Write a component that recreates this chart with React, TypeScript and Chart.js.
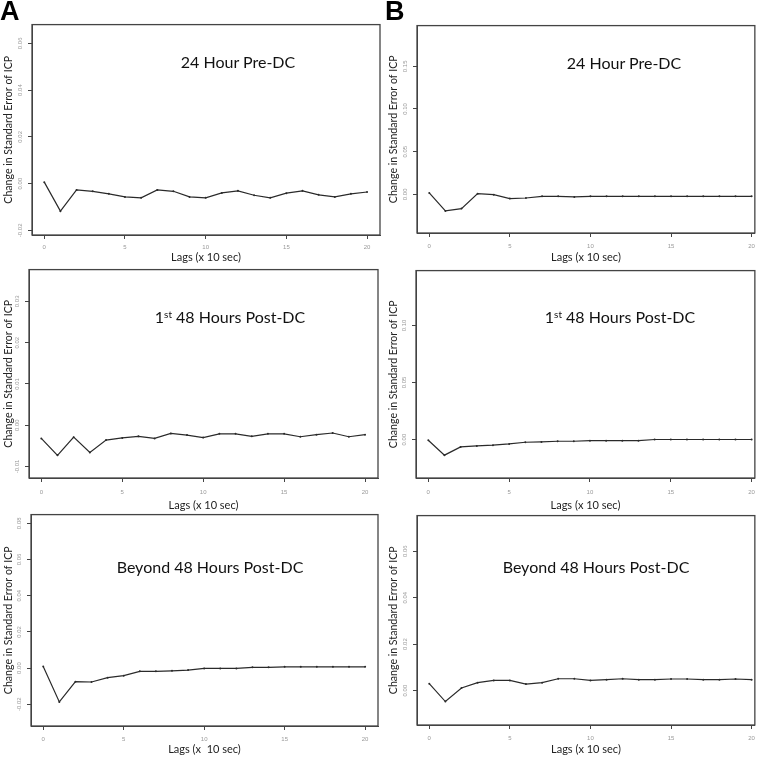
import React, { useEffect, useRef } from "react";
import { Chart, registerables } from "chart.js";

Chart.register(...registerables);

// ---------- data ----------
const lags = [0, 1, 2, 3, 4, 5, 6, 7, 8, 9, 10, 11, 12, 13, 14, 15, 16, 17, 18, 19, 20];

const a24Pre = [0.0006, -0.0118, -0.0027, -0.0033, -0.0044, -0.0057, -0.0061, -0.0027, -0.0033, -0.0057, -0.0061, -0.004, -0.0031, -0.005, -0.0061, -0.0041, -0.0031, -0.0048, -0.0057, -0.0044, -0.0036];
const b24Pre = [0.0016, -0.0194, -0.0167, 0.0008, -0.0004, -0.005, -0.0043, -0.0023, -0.0023, -0.003, -0.0023, -0.0023, -0.0023, -0.0023, -0.0023, -0.0023, -0.0023, -0.0023, -0.0023, -0.0023, -0.0023];
const a48Post = [-0.0032, -0.0073, -0.0029, -0.0066, -0.0036, -0.0031, -0.0027, -0.0032, -0.002, -0.0024, -0.003, -0.0021, -0.0021, -0.0027, -0.0021, -0.0021, -0.0028, -0.0023, -0.0019, -0.0028, -0.0023];
const b48Post = [-0.0006, -0.0136, -0.0064, -0.0055, -0.0049, -0.0038, -0.0023, -0.002, -0.0014, -0.0014, -0.0009, -0.0009, -0.0009, -0.0009, 0.0001, 0.0001, 0.0001, 0.0001, 0.0001, 0.0001, 0.0001];
const aBeyond = [0.0009, -0.0187, -0.0075, -0.0077, -0.0053, -0.0042, -0.0018, -0.0018, -0.0015, -0.0011, -0.0002, -0.0002, -0.0002, 0.0004, 0.0004, 0.0007, 0.0007, 0.0007, 0.0007, 0.0007, 0.0007];
const bBeyond = [0.003, -0.0047, 0.0011, 0.0034, 0.0044, 0.0044, 0.0028, 0.0034, 0.0051, 0.0051, 0.0044, 0.0047, 0.0051, 0.0047, 0.0047, 0.005, 0.005, 0.0047, 0.0047, 0.005, 0.0047];

const xTicks = [0, 5, 10, 15, 20];
const a24Ticks = [-0.02, 0, 0.02, 0.04, 0.06];
const b24Ticks = [0, 0.05, 0.1, 0.15];
const a48Ticks = [-0.01, 0, 0.01, 0.02, 0.03];
const b48Ticks = [0, 0.05, 0.1];
const aBeyondTicks = [-0.02, 0, 0.02, 0.04, 0.06, 0.08];
const bBeyondTicks = [0, 0.02, 0.04, 0.06];

const yAxisLabel = "Change in Standard Error of ICP";
const xAxisLabel = "Lags (x 10 sec)";
const xAxisLabelWide = "Lags (x  10 sec)";

// ---------- layout ----------
type PanelSpec = {
  key: string;
  values: number[];
  yTicks: number[];
  yMin: number;
  yMax: number;
  xMin: number;
  xMax: number;
  colLeft: number;
  box: [number, number, number, number];
  xTitleY: number;
  xTitle: string;
  tickPadX: number;
  tickPadY: number;
  title: React.ReactNode;
  titleX: number;
  titleY: number;
};

const sup = (t: string) => <sup style={{ fontSize: "0.62em", verticalAlign: "0.55em", lineHeight: 0 }}>{t}</sup>;

const panels: PanelSpec[] = [
  { key: "A1", values: a24Pre, yTicks: a24Ticks, yMin: -0.022, yMax: 0.068, xMin: -0.76, xMax: 20.8, colLeft: 0, box: [32, 24, 380, 235], xTitleY: 257, xTitle: xAxisLabel, tickPadX: 5, tickPadY: 1, title: "24 Hour Pre-DC", titleX: 238, titleY: 62 },
  { key: "B1", values: b24Pre, yTicks: b24Ticks, yMin: -0.0453, yMax: 0.1977, xMin: -0.76, xMax: 20.2, colLeft: 385, box: [417, 24, 757, 233], xTitleY: 257, xTitle: xAxisLabel, tickPadX: 6, tickPadY: 2, title: "24 Hour Pre-DC", titleX: 624, titleY: 63 },
  { key: "A2", values: a48Post, yTicks: a48Ticks, yMin: -0.0128, yMax: 0.0377, xMin: -0.76, xMax: 20.8, colLeft: 0, box: [29, 269, 378, 478], xTitleY: 505, xTitle: xAxisLabel, tickPadX: 7, tickPadY: 1, title: <>1{sup("st")} 48 Hours Post-DC</>, titleX: 230, titleY: 317 },
  { key: "B2", values: b48Post, yTicks: b48Ticks, yMin: -0.0336, yMax: 0.148, xMin: -0.76, xMax: 20.2, colLeft: 385, box: [416, 269, 758, 478], xTitleY: 505, xTitle: xAxisLabel, tickPadX: 7, tickPadY: 2, title: <>1{sup("st")} 48 Hours Post-DC</>, titleX: 620, titleY: 317 },
  { key: "A3", values: aBeyond, yTicks: aBeyondTicks, yMin: -0.032, yMax: 0.0848, xMin: -0.76, xMax: 20.8, colLeft: 0, box: [31, 514, 378, 726], xTitleY: 749, xTitle: xAxisLabelWide, tickPadX: 6, tickPadY: 1, title: "Beyond 48 Hours Post-DC", titleX: 210, titleY: 567 },
  { key: "B3", values: bBeyond, yTicks: bBeyondTicks, yMin: -0.0148, yMax: 0.0753, xMin: -0.76, xMax: 20.2, colLeft: 385, box: [417, 514, 757, 725], xTitleY: 749, xTitle: xAxisLabel, tickPadX: 6, tickPadY: 2, title: "Beyond 48 Hours Post-DC", titleX: 596, titleY: 567 },
];

const boxPlugin = {
  id: "plotBox",
  afterDraw(chart: any) {
    const { ctx, chartArea } = chart;
    const { left, top, right, bottom } = chartArea;
    ctx.save();
    ctx.strokeStyle = "#444";
    ctx.lineWidth = 1.3;
    ctx.strokeRect(left, top, right - left, bottom - top);
    ctx.restore();
  },
};

const TITLE_FONT = "Lato, 'Open Sans', sans-serif";
const TOP_PAD = 4;
const RIGHT_PAD = 4;

function Panel({ p }: { p: PanelSpec }) {
  const ref = useRef<HTMLCanvasElement | null>(null);
  const [bl, bt, br, bb] = p.box;
  const canvasLeft = p.colLeft;
  const canvasTop = bt - TOP_PAD;
  const width = br + RIGHT_PAD - canvasLeft;
  const height = p.xTitleY + 8 - canvasTop;
  const yAxisW = bl - canvasLeft;
  const xAxisH = p.xTitleY + 6 - bb;

  useEffect(() => {
    if (!ref.current) return;
    const chart = new Chart(ref.current, {
      type: "line",
      data: {
        datasets: [
          {
            data: lags.map((l, i) => ({ x: l, y: p.values[i] })),
            borderColor: "#2a2a2a",
            borderWidth: 1.2,
            pointRadius: 1,
            pointBackgroundColor: "#2a2a2a",
            pointBorderWidth: 0,
            tension: 0,
            fill: false,
          },
        ],
      },
      options: {
        responsive: false,
        animation: false,
        devicePixelRatio: 1,
        layout: { padding: { left: 0, top: TOP_PAD, right: RIGHT_PAD, bottom: 2 } },
        plugins: { legend: { display: false }, tooltip: { enabled: false }, title: { display: false } },
        scales: {
          x: {
            type: "linear",
            min: p.xMin,
            max: p.xMax,
            afterBuildTicks: (s: any) => {
              s.ticks = xTicks.map((v) => ({ value: v }));
            },
            afterFit: (s: any) => {
              s.height = xAxisH;
            },
            grid: { drawOnChartArea: false, drawTicks: true, tickLength: 4, color: "#444", lineWidth: 1 },
            border: { display: true, color: "#444" },
            ticks: {
              padding: p.tickPadX,
              maxRotation: 0,
              autoSkip: false,
              color: "#999",
              font: { family: "'Liberation Sans', Arial, sans-serif", size: 6 },
              callback: (v: any) => String(v),
            },
            title: {
              display: true,
              text: p.xTitle,
              color: "#222",
              padding: { top: 0, bottom: 0 },
              font: { family: TITLE_FONT, size: 11, lineHeight: 1 },
            },
          },
          y: {
            type: "linear",
            min: p.yMin,
            max: p.yMax,
            afterBuildTicks: (s: any) => {
              s.ticks = p.yTicks.map((v) => ({ value: v }));
            },
            afterFit: (s: any) => {
              s.width = yAxisW;
            },
            grid: { drawOnChartArea: false, drawTicks: true, tickLength: 4, color: "#444", lineWidth: 1 },
            border: { display: true, color: "#444" },
            ticks: {
              padding: p.tickPadY,
              minRotation: 90,
              maxRotation: 90,
              crossAlign: "center",
              autoSkip: false,
              color: "#999",
              font: { family: "'Liberation Sans', Arial, sans-serif", size: 6 },
              callback: (v: any) => Number(v).toFixed(2),
            },
            title: {
              display: true,
              text: yAxisLabel,
              color: "#222",
              padding: { top: 3, bottom: 0 },
              font: { family: TITLE_FONT, size: 10.6, lineHeight: 1 },
            },
          },
        },
      },
      plugins: [boxPlugin],
    } as any);
    return () => chart.destroy();
  }, []);

  return (
    <>
      <canvas
        ref={ref}
        width={width}
        height={height}
        style={{ position: "absolute", left: canvasLeft, top: canvasTop, width, height }}
      />
      <div
        style={{
          position: "absolute",
          left: p.titleX,
          top: p.titleY,
          transform: "translate(-50%, -50%)",
          whiteSpace: "nowrap",
          fontFamily: TITLE_FONT,
          fontSize: 16,
          color: "#111",
          lineHeight: 1,
        }}
      >
        {p.title}
      </div>
    </>
  );
}

export default function App() {
  return (
    <div style={{ position: "absolute", left: 0, top: 0, width: 771, height: 757, background: "#fff", overflow: "hidden" }}>
      {panels.map((p) => (
        <Panel key={p.key} p={p} />
      ))}
      <div style={{ position: "absolute", left: 0, top: -2, fontFamily: "'Liberation Sans', Arial, sans-serif", fontWeight: 700, fontSize: 27, lineHeight: 1.0, color: "#000" }}>A</div>
      <div style={{ position: "absolute", left: 385, top: -2, fontFamily: "'Liberation Sans', Arial, sans-serif", fontWeight: 700, fontSize: 27, lineHeight: 1.0, color: "#000" }}>B</div>
    </div>
  );
}
